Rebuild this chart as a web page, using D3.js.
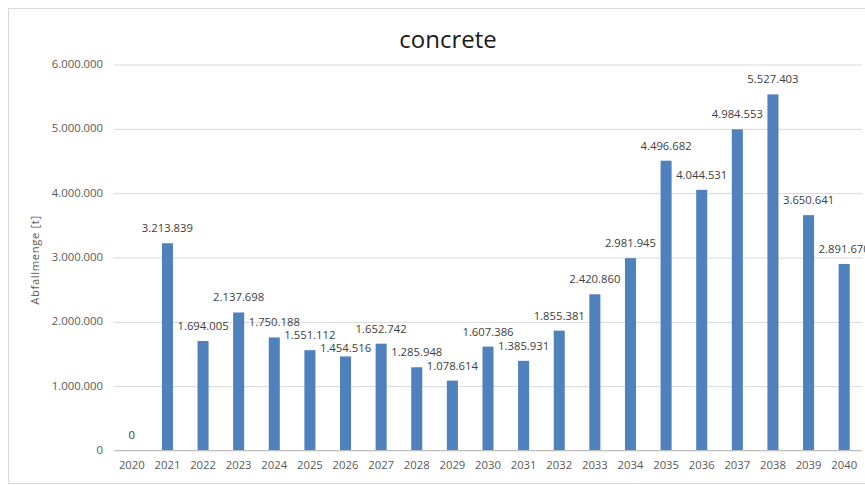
<!DOCTYPE html>
<html>
<head>
<meta charset="utf-8">
<script src="https://cdn.jsdelivr.net/npm/d3@7"></script>
<style>
  html, body { margin: 0; padding: 0; background: #fff; }
  svg { display: block; font-family: "Open Sans", "Liberation Sans", sans-serif; }
</style>
</head>
<body>
<svg id="chart" width="865" height="485"></svg>
<script>
const title = "concrete";
const yAxisTitle = "Abfallmenge [t]";
const years = ["2020","2021","2022","2023","2024","2025","2026","2027","2028","2029","2030",
               "2031","2032","2033","2034","2035","2036","2037","2038","2039","2040"];
const values = [0, 3213839, 1694005, 2137698, 1750188, 1551112, 1454516, 1652742, 1285948, 1078614,
                1607386, 1385931, 1855381, 2420860, 2981945, 4496682, 4044531, 4984553, 5527403,
                3650641, 2891670];
const yTicks = [0, 1000000, 2000000, 3000000, 4000000, 5000000, 6000000];

const W = 865, H = 485;
const plot = { left: 114, right: 862, top: 64, bottom: 450 };

const locale = d3.formatLocale({ decimal: ",", thousands: ".", grouping: [3], currency: ["", "€"] });
const fmt = locale.format(",d");

const svg = d3.select("#chart");

// outer chart border
svg.append("rect")
  .attr("x", 8.5).attr("y", 8.5)
  .attr("width", W + 20).attr("height", 475)
  .attr("fill", "#fff").attr("stroke", "#d9d9d9").attr("stroke-width", 1);

const x = d3.scaleBand()
  .domain(years)
  .range([plot.left, plot.right])
  .paddingInner(0.69)
  .paddingOuter(0.345);

const y = d3.scaleLinear()
  .domain([0, 6000000])
  .range([plot.bottom, plot.top]);

// gridlines + y tick labels
const yAxis = d3.axisLeft(y)
  .tickValues(yTicks)
  .tickSize(-(plot.right - plot.left))
  .tickPadding(11)
  .tickFormat(d => fmt(d));

const gy = svg.append("g")
  .attr("transform", `translate(${plot.left},0)`)
  .call(yAxis);
gy.select(".domain").remove();
gy.selectAll(".tick line")
  .attr("stroke", "#d9d9d9")
  .attr("stroke-width", 1)
  .attr("transform", "translate(0,0.5)");
gy.selectAll(".tick text")
  .attr("fill", "#595959")
  .attr("font-size", "11.3px")
  .attr("font-family", "\"Open Sans\", sans-serif");

// x axis
const xAxis = d3.axisBottom(x).tickSize(0).tickPadding(11);
const gx = svg.append("g")
  .attr("transform", `translate(0,${plot.bottom})`)
  .call(xAxis);
gx.select(".domain")
  .attr("stroke", "#bfbfbf")
  .attr("d", `M${plot.left},0.5H${plot.right}`);
gx.selectAll(".tick text")
  .attr("fill", "#595959")
  .attr("font-size", "11.3px")
  .attr("font-family", "\"Open Sans\", sans-serif");

// bars
svg.append("g")
  .selectAll("rect")
  .data(values)
  .join("rect")
  .attr("x", (d, i) => x(years[i]))
  .attr("y", d => y(d))
  .attr("width", x.bandwidth())
  .attr("height", d => plot.bottom - y(d))
  .attr("fill", "#4f81bd");

// data label positions with simple collision avoidance (like Excel's label placement)
const labelPos = [];
values.forEach((d, i) => {
  let ly = y(d) - 15;
  const prev = labelPos[i - 1];
  if (prev && Math.abs(prev - ly) < 12) ly = y(d) - 8;
  labelPos.push(ly);
});

svg.append("g")
  .selectAll("text")
  .data(values)
  .join("text")
  .attr("x", (d, i) => x(years[i]) + x.bandwidth() / 2)
  .attr("y", (d, i) => labelPos[i])
  .attr("dy", "0.35em")
  .attr("text-anchor", "middle")
  .attr("fill", "#404040")
  .attr("font-size", "11.3px")
  .text(d => fmt(d));

// title
svg.append("text")
  .attr("x", 448).attr("y", 48)
  .attr("text-anchor", "middle")
  .attr("fill", "#1a1a1a")
  .attr("font-size", "24px")
  .text(title);

// y axis title
svg.append("text")
  .attr("transform", `translate(39,${(plot.top + plot.bottom) / 2 + 3}) rotate(-90)`)
  .attr("text-anchor", "middle")
  .attr("fill", "#595959")
  .attr("font-size", "11.3px")
  .attr("letter-spacing", "0.6px")
  .text(yAxisTitle);
</script>
</body>
</html>
